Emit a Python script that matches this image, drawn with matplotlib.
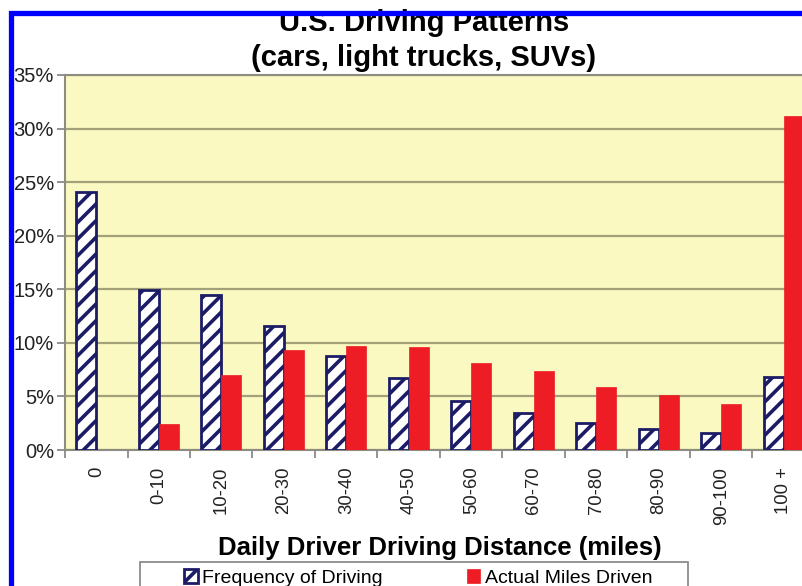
import matplotlib
matplotlib.use("Agg")
import matplotlib.pyplot as plt
import numpy as np
from matplotlib.patches import Rectangle

categories = ["0", "0-10", "10-20", "20-30", "30-40", "40-50", "50-60",
              "60-70", "70-80", "80-90", "90-100", "100 +"]
frequency = [24.1, 14.9, 14.5, 11.6, 8.8, 6.7, 4.6, 3.5, 2.5, 2.0, 1.6, 6.8]
miles = [0.0, 2.4, 7.0, 9.3, 9.7, 9.6, 8.1, 7.4, 5.9, 5.1, 4.3, 31.2]
yticks = [0, 5, 10, 15, 20, 25, 30, 35]

plt.rcParams['font.family'] = ['Liberation Sans', 'DejaVu Sans']
plt.rcParams['hatch.linewidth'] = 2.6
plt.rcParams['hatch.color'] = '#1c1c66'

W, H = 803, 586
fig = plt.figure(figsize=(W / 100, H / 100), dpi=100)
ax = fig.add_axes([65 / W, (H - 450) / H, 750 / W, 375 / H])
ax.set_facecolor('#fbf9c2')

x = np.arange(len(categories))
bw = 0.32
navy = '#1c1c66'
red = '#ee1c25'
ax.bar(x - bw / 2, frequency, bw, facecolor='white', edgecolor=navy,
       hatch='//', linewidth=2.0, zorder=3, label='Frequency of Driving')
ax.bar(x + bw / 2, miles, bw, color=red, edgecolor=red, linewidth=0.5,
       zorder=3, label='Actual Miles Driven')

ax.set_xlim(-0.5, len(categories) - 0.5)
ax.set_ylim(0, 35)
ax.set_yticks(yticks)
ax.set_yticklabels([f"{v}%" for v in yticks], fontsize=14.5, color='#222222')
ax.yaxis.grid(True, color='#a3a17a', linewidth=1.6, zorder=1)
ax.set_axisbelow(True)

ax.set_xticks(x)
ax.set_xticklabels(categories, rotation=90, fontsize=13.3, color='#222222')
ax.set_xticks(np.arange(-0.5, len(categories) - 0.4, 1.0), minor=True)
ax.tick_params(axis='x', which='major', length=0, pad=12)
ax.tick_params(axis='x', which='minor', length=6, color='#808080', width=1.2)
ax.tick_params(axis='y', length=6, color='#808080', width=1.2, pad=2)

for s in ['left', 'bottom', 'top']:
    ax.spines[s].set_color('#8c8c80')
    ax.spines[s].set_linewidth(1.5)
ax.spines['right'].set_visible(False)

ax.set_xlabel("Daily Driver Driving Distance (miles)", fontsize=18.5,
              fontweight='bold', labelpad=8)

fig.text(424 / W, 1 - 31 / H, "U.S. Driving Patterns", ha='center',
         va='baseline', fontsize=21, fontweight='bold')
fig.text(424 / W, 1 - 66 / H, "(cars, light trucks, SUVs)", ha='center',
         va='baseline', fontsize=21, fontweight='bold')

leg = fig.legend(loc='upper left', bbox_to_anchor=(184 / W, 1 - 569 / H),
                 ncol=2, fontsize=14, frameon=False,
                 handlelength=0.7, handleheight=0.7,
                 handletextpad=0.25, columnspacing=4.3, borderpad=0,
                 borderaxespad=0)

fig.add_artist(Rectangle((140 / W, -0.1), 548 / W, (H - 562) / H + 0.1,
                         transform=fig.transFigure, fill=False,
                         edgecolor='#8c8c8c', linewidth=1.3, zorder=5))

fig.add_artist(Rectangle((11.5 / W, -0.2), 1.2, (H - 12.5) / H + 0.2,
                         transform=fig.transFigure, fill=False,
                         edgecolor='#0000ff', linewidth=3.8, zorder=10))

fig.savefig("out.png", dpi=100)
